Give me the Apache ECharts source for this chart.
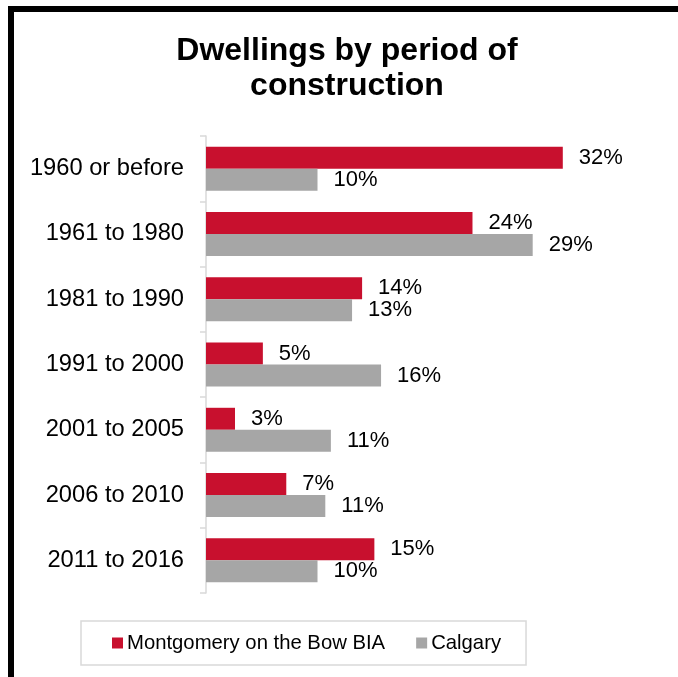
<!DOCTYPE html>
<html>
<head>
<meta charset="utf-8">
<script src="https://cdn.jsdelivr.net/npm/echarts@6/dist/echarts.min.js"></script>
<style>
html,body{margin:0;padding:0;background:#fff;overflow:hidden;}
#frame{position:absolute;left:8px;top:6px;width:1000px;height:1000px;border-left:6px solid #000;border-top:6px solid #000;box-sizing:border-box;}
#chart{position:absolute;left:0;top:0;width:678px;height:677px;}
</style>
</head>
<body>
<div id="frame"></div>
<div id="chart"></div>
<script>
const titleText = 'Dwellings by period of\nconstruction';
const categories = ['1960 or before','1961 to 1980','1981 to 1990','1991 to 2000','2001 to 2005','2006 to 2010','2011 to 2016'];
const seriesNames = ['Montgomery on the Bow BIA','Calgary'];
const biaValues = [32.0, 23.9, 14.0, 5.1, 2.6, 7.2, 15.1];
const calgaryValues = [10.0, 29.3, 13.1, 15.7, 11.2, 10.7, 10.0];

const FONT = "'Liberation Sans', Arial, sans-serif";
const chart = echarts.init(document.getElementById('chart'), null, {renderer:'canvas'});
const labelCfg = {
  show: true, position: 'right', distance: 16,
  fontFamily: FONT, fontSize: 22, color: '#000',
  formatter: p => Math.round(p.value) + '%'
};
chart.setOption({
  backgroundColor: 'transparent',
  animation: false,
  title: {
    text: titleText, left: 342, top: 29, textAlign: 'center',
    textStyle: {fontFamily: FONT, fontSize: 32, fontWeight: 'bold', color: '#000', lineHeight: 35}
  },
  legend: {
    left: 81, top: 621, orient: 'horizontal',
    padding: [12, 25, 12, 31],
    borderColor: '#D9D9D9', borderWidth: 1.5,
    itemWidth: 11, itemHeight: 11, itemGap: 31, icon: 'rect',
    textStyle: {fontFamily: FONT, fontSize: 20.3, color: '#000', padding: [0,0,0,-1]},
    data: seriesNames
  },
  grid: {left: 206, right: 26, top: 136, height: 457, containLabel: false},
  xAxis: {type: 'value', min: 0, max: 40, show: false},
  yAxis: {
    type: 'category', data: categories, inverse: true,
    axisLine: {show: true, lineStyle: {color: '#D9D9D9', width: 1.5}},
    axisTick: {show: true, length: 6, lineStyle: {color: '#D9D9D9', width: 1.5}},
    axisLabel: {fontFamily: FONT, fontSize: 23.7, color: '#000', margin: 22}
  },
  series: [
    {name: seriesNames[0], type: 'bar', data: biaValues, barWidth: 22, barGap: '0%',
     itemStyle: {color: '#C8102E'}, label: labelCfg},
    {name: seriesNames[1], type: 'bar', data: calgaryValues, barWidth: 22, barGap: '0%',
     itemStyle: {color: '#A6A6A6'}, label: labelCfg}
  ]
});
</script>
</body>
</html>
